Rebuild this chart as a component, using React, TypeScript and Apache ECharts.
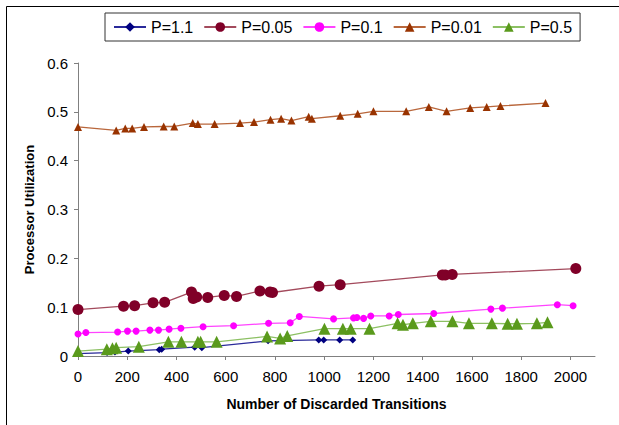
import React, { useEffect, useRef } from "react";
import * as echarts from "echarts";

const seriesNames = ["P=1.1", "P=0.05", "P=0.1", "P=0.01", "P=0.5"];
const xTickValues = [0, 200, 400, 600, 800, 1000, 1200, 1400, 1600, 1800, 2000];

const p11X = [0, 118, 150, 204, 330, 340, 474, 503, 772, 978, 998, 1063, 1116];
const p11Y = [0.005, 0.007, 0.008, 0.01, 0.013, 0.014, 0.018, 0.017, 0.031, 0.033, 0.033, 0.033, 0.033];

const p005X = [0, 185, 230, 305, 352, 461, 468, 482, 527, 594, 644, 739, 780, 790, 979, 1065, 1480, 1492, 1520, 2022];
const p005Y = [0.095, 0.102, 0.103, 0.109, 0.11, 0.131, 0.118, 0.121, 0.12, 0.124, 0.122, 0.133, 0.131, 0.13, 0.143, 0.146, 0.166, 0.166, 0.167, 0.179];

const p01X = [0, 32, 161, 201, 236, 292, 327, 370, 418, 508, 632, 774, 862, 899, 1038, 1119, 1133, 1160, 1189, 1264, 1301, 1445, 1677, 1724, 1947, 2011];
const p01Y = [0.045, 0.048, 0.049, 0.051, 0.051, 0.053, 0.053, 0.055, 0.057, 0.06, 0.062, 0.067, 0.068, 0.081, 0.076, 0.078, 0.079, 0.077, 0.082, 0.082, 0.085, 0.087, 0.096, 0.098, 0.105, 0.103];

const p001X = [0, 155, 192, 220, 268, 348, 391, 466, 487, 555, 658, 715, 782, 825, 867, 937, 950, 1065, 1136, 1200, 1333, 1425, 1497, 1593, 1660, 1716, 1899];
const p001Y = [0.469, 0.462, 0.466, 0.466, 0.469, 0.47, 0.47, 0.477, 0.475, 0.475, 0.477, 0.479, 0.484, 0.486, 0.482, 0.49, 0.486, 0.492, 0.496, 0.501, 0.501, 0.51, 0.501, 0.508, 0.51, 0.512, 0.518];

const p05X = [0, 117, 140, 155, 247, 367, 420, 487, 498, 563, 768, 821, 850, 1001, 1076, 1108, 1184, 1298, 1320, 1360, 1433, 1521, 1588, 1681, 1745, 1783, 1864, 1907];
const p05Y = [0.01, 0.014, 0.016, 0.017, 0.019, 0.029, 0.029, 0.029, 0.029, 0.029, 0.04, 0.036, 0.041, 0.056, 0.056, 0.056, 0.056, 0.067, 0.064, 0.067, 0.071, 0.071, 0.067, 0.067, 0.066, 0.066, 0.067, 0.069];

const zip = (xs: number[], ys: number[]) => xs.map((x, i) => [x, ys[i]]);

const FONT = 'Arial, "Liberation Sans", sans-serif';

export default function App() {
  const ref = useRef<HTMLDivElement>(null);
  useEffect(() => {
    document.body.style.margin = "0";
    const chart = echarts.init(ref.current!, undefined, { renderer: "svg" });
    const mk = (
      name: string,
      data: number[][],
      symbol: string,
      size: number,
      color: string,
      lineColor: string
    ) => ({
      name,
      type: "line",
      data,
      symbol,
      symbolSize: size,
      showAllSymbol: true,
      itemStyle: { color },
      lineStyle: { color: lineColor, width: 1.3 },
      emphasis: { disabled: true },
    });
    chart.setOption({
      animation: false,
      textStyle: { fontFamily: FONT },
      graphic: [
        {
          type: "rect",
          shape: { x: 6.5, y: 6.5, width: 800, height: 600 },
          style: { fill: "none", stroke: "#000", lineWidth: 1 },
          silent: true,
        },
      ],
      legend: {
        data: seriesNames,
        left: 105,
        top: 13,
        padding: [6, 8, 6, 8],
        itemGap: 10,
        itemWidth: 32,
        itemHeight: 12,
        borderColor: "#333",
        borderWidth: 1,
        textStyle: { fontSize: 16, color: "#000", fontFamily: FONT },
        selectedMode: false,
      },
      grid: { left: 78, right: 24, top: 63, bottom: 69, containLabel: false },
      xAxis: {
        type: "value",
        min: 0,
        max: 2100,
        interval: 200,
        name: "Number of Discarded Transitions",
        nameLocation: "middle",
        nameGap: 41,
        nameTextStyle: { fontWeight: "bold", fontSize: 14, color: "#000", fontFamily: FONT },
        axisLine: { lineStyle: { color: "#808080", width: 1 } },
        axisTick: { show: true, length: 4, lineStyle: { color: "#808080" }, customValues: xTickValues },
        axisLabel: {
          fontSize: 15,
          color: "#000",
          margin: 13,
          customValues: xTickValues,
          fontFamily: FONT,
          formatter: (v: number) => String(v),
        },
        splitLine: { show: false },
      },
      yAxis: {
        type: "value",
        min: 0,
        max: 0.6,
        interval: 0.1,
        name: "Processor Utilization",
        nameLocation: "middle",
        nameGap: 42,
        nameTextStyle: { fontWeight: "bold", fontSize: 13, color: "#000", fontFamily: FONT },
        axisLine: { show: true, lineStyle: { color: "#808080", width: 1 } },
        axisTick: { show: true, length: 4, lineStyle: { color: "#808080" } },
        axisLabel: { fontSize: 15, color: "#000", margin: 10, fontFamily: FONT },
        splitLine: { show: false },
      },
      series: [
        mk(seriesNames[0], zip(p11X, p11Y), "diamond", 7, "#000080", "#2a2a9a"),
        mk(seriesNames[1], zip(p005X, p005Y), "circle", 11, "#800028", "#a34a5c"),
        mk(seriesNames[2], zip(p01X, p01Y), "circle", 7, "#ff00ff", "#ff44ff"),
        mk(seriesNames[3], zip(p001X, p001Y), "triangle", 8, "#993300", "#b9673c"),
        mk(seriesNames[4], zip(p05X, p05Y), "triangle", 12, "#5a9a1c", "#8cc063"),
      ],
    });
    return () => chart.dispose();
  }, []);
  return <div ref={ref} style={{ width: 619, height: 425 }} />;
}
